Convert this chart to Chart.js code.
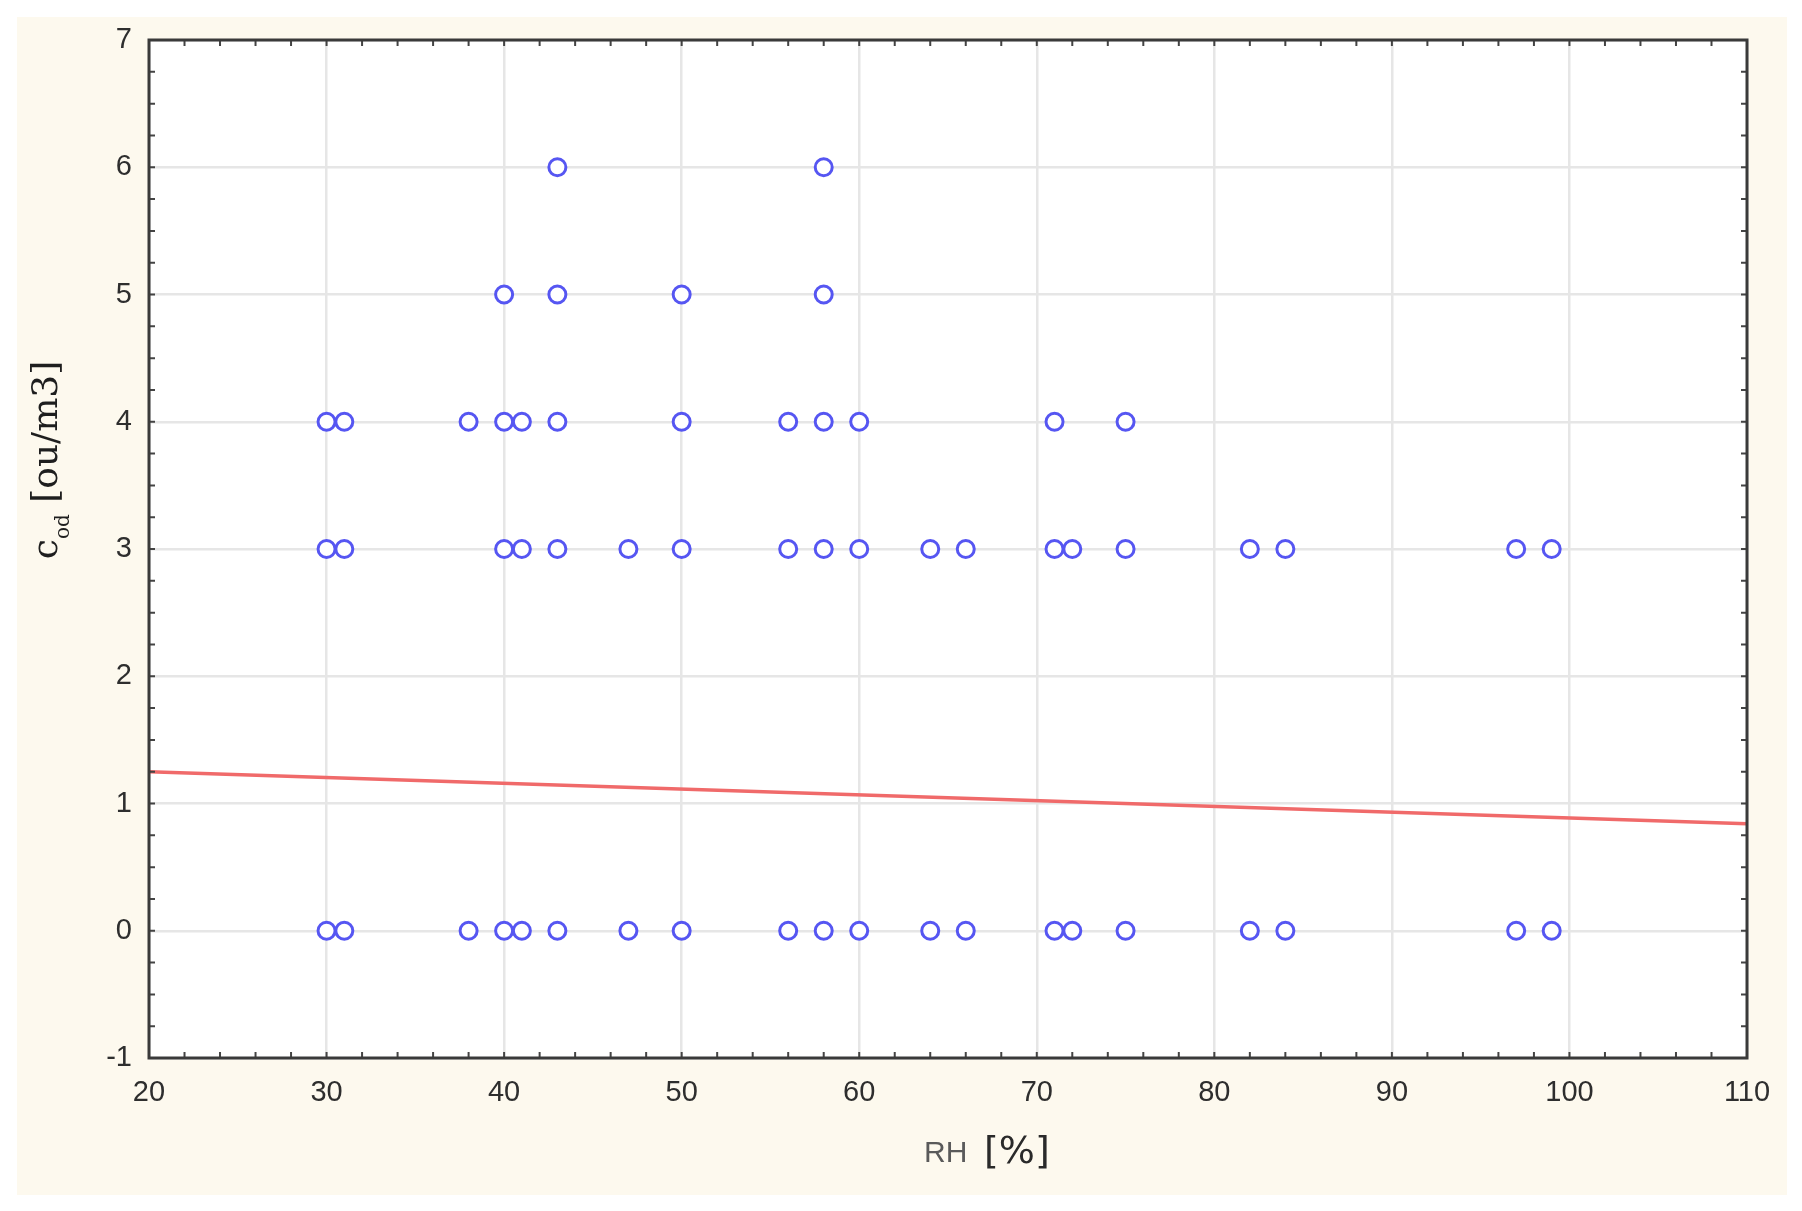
<!DOCTYPE html>
<html>
<head>
<meta charset="utf-8">
<script src="https://cdn.jsdelivr.net/npm/chart.js@4.4.1/dist/chart.umd.min.js"></script>
<style>
  html, body { margin: 0; padding: 0; background: #ffffff; }
  #wrap { position: relative; width: 1802px; height: 1211px; }
</style>
</head>
<body>
<div id="wrap"><canvas id="scatterChart"></canvas></div>
<script>
// RH values (%) observed at each odour concentration level
const rhAt6 = [43, 58];
const rhAt5 = [40, 43, 50, 58];
const rhAt4 = [30, 31, 38, 40, 41, 43, 50, 56, 58, 60, 71, 75];
const rhAt3 = [30, 31, 40, 41, 43, 47, 50, 56, 58, 60, 64, 66, 71, 72, 75, 82, 84, 97, 99];
const rhAt0 = [30, 31, 38, 40, 41, 43, 47, 50, 56, 58, 60, 64, 66, 71, 72, 75, 82, 84, 97, 99];
const codLevels = [6, 5, 4, 3, 0];

// fitted regression line end points
const fitRH = [20, 110];
const fitCod = [1.25, 0.84];

const xTicks = { min: 20, max: 110, step: 10, minor: 2 };
const yTicks = { min: -1, max: 7, step: 1, minor: 0.25 };

document.addEventListener("DOMContentLoaded", function () {
    const ctx = document.getElementById("scatterChart").getContext("2d");

    const groups = [rhAt6, rhAt5, rhAt4, rhAt3, rhAt0];
    let points = [];
    groups.forEach(function (list, i) {
        list.forEach(function (rh) {
            points.push({ x: rh, y: codLevels[i] });
        });
    });
    const fitLine = fitRH.map(function (v, i) { return { x: v, y: fitCod[i] }; });

    // cream frame, white plot area
    const backdrop = {
        id: "backdrop",
        beforeDraw: function (chart) {
            const c = chart.ctx;
            const a = chart.chartArea;
            c.save();
            c.fillStyle = "#fdf9ee";
            c.fillRect(17, 17, 1770, 1178);
            c.fillStyle = "#ffffff";
            c.fillRect(a.left, a.top, a.right - a.left, a.bottom - a.top);
            c.restore();
        }
    };

    // box around plot with inward minor ticks, and axis titles
    const frame = {
        id: "frame",
        afterDatasetsDraw: function (chart) {
            const c = chart.ctx;
            const a = chart.chartArea;
            const xs = chart.scales.x;
            const ys = chart.scales.y;
            c.save();
            c.strokeStyle = "#444444";
            c.lineWidth = 2;
            c.beginPath();
            for (let v = xTicks.min; v <= xTicks.max + 1e-9; v += xTicks.minor) {
                const px = xs.getPixelForValue(v);
                c.moveTo(px, a.bottom);
                c.lineTo(px, a.bottom - 6);
                c.moveTo(px, a.top);
                c.lineTo(px, a.top + 6);
            }
            for (let v = yTicks.min; v <= yTicks.max + 1e-9; v += yTicks.minor) {
                const py = ys.getPixelForValue(v);
                c.moveTo(a.left, py);
                c.lineTo(a.left + 6, py);
                c.moveTo(a.right, py);
                c.lineTo(a.right - 6, py);
            }
            c.stroke();
            c.strokeStyle = "#3a3a3a";
            c.lineWidth = 3;
            c.strokeRect(a.left, a.top, a.right - a.left, a.bottom - a.top);

            // x title: RH [%]
            c.textBaseline = "alphabetic";
            c.textAlign = "left";
            c.fillStyle = "#5a5a5a";
            c.font = "30px 'Liberation Sans', Arial, sans-serif";
            c.fillText("RH", 924, 1162);
            c.fillStyle = "#2a2a2a";
            c.font = "38px 'DejaVu Sans', sans-serif";
            c.fillText("[%]", 984, 1163);

            // y title: c_od [ou/m3]
            c.translate(57, 460);
            c.rotate(-Math.PI / 2);
            c.fillStyle = "#1e1e1e";
            c.font = "36px 'DejaVu Serif', serif";
            const wC = c.measureText("c").width;
            const wMain = c.measureText(" [ou/m3]").width;
            c.font = "20px 'DejaVu Serif', serif";
            const wSub = c.measureText("od").width;
            let x0 = -(wC + wSub + wMain) / 2;
            c.font = "36px 'DejaVu Serif', serif";
            c.fillText("c", x0, 0);
            c.font = "20px 'DejaVu Serif', serif";
            c.fillText("od", x0 + wC, 12);
            c.font = "36px 'DejaVu Serif', serif";
            c.fillText(" [ou/m3]", x0 + wC + wSub, 0);
            c.restore();
        }
    };

    const tickFont = { family: "'Liberation Sans', Arial, sans-serif", size: 29 };

    const chart = new Chart(ctx, {
        type: "scatter",
        data: {
            datasets: [{
                label: "cod",
                data: points,
                pointStyle: "circle",
                pointRadius: 8.5,
                pointBorderWidth: 3,
                pointBorderColor: "#5656f2",
                pointBackgroundColor: "#ffffff",
                showLine: false
            }, {
                label: "fit",
                data: fitLine,
                showLine: true,
                borderColor: "#f06a6a",
                borderWidth: 3.5,
                pointRadius: 0,
                fill: false
            }]
        },
        options: {
            animation: false,
            responsive: true,
            maintainAspectRatio: false,
            layout: { padding: { top: 40, right: 55, left: 0, bottom: 0 } },
            plugins: {
                legend: { display: false },
                tooltip: { enabled: false }
            },
            scales: {
                x: {
                    type: "linear",
                    min: xTicks.min,
                    max: xTicks.max,
                    afterFit: function (scale) { scale.height = 153; },
                    ticks: { stepSize: xTicks.step, color: "#2e2e2e", font: tickFont, padding: 18, maxRotation: 0 },
                    grid: { color: "#e6e6e6", lineWidth: 2.5, drawTicks: false },
                    border: { display: false }
                },
                y: {
                    type: "linear",
                    min: yTicks.min,
                    max: yTicks.max,
                    afterFit: function (scale) { scale.width = 149; },
                    ticks: { stepSize: yTicks.step, color: "#2e2e2e", font: tickFont, padding: 17 },
                    grid: { color: "#e6e6e6", lineWidth: 2.5, drawTicks: false },
                    border: { display: false }
                }
            }
        },
        plugins: [backdrop, frame]
    });
});
</script>
</body>
</html>
